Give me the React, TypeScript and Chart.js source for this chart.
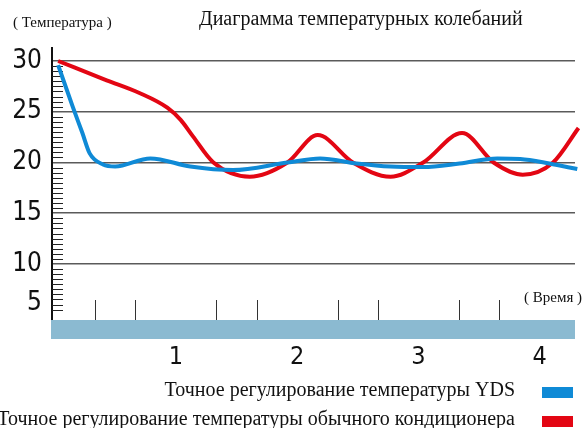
import React, { useEffect, useRef } from "react";
import { Chart, registerables } from "chart.js";

Chart.register(...registerables);

// ---- data ----
const chartTitle = "Диаграмма температурных колебаний";
const yAxisTitle = "( Температура )";
const xAxisTitle = "( Время )";
const seriesNames = [
  "Точное регулирование температуры YDS",
  "Точное регулирование температуры обычного кондиционера",
];
const yTickValues = [30, 25, 20, 15, 10];
const lowTickLabel = "5";
const lowTickValue = 6.15;
const timeLabels = [1, 2, 3, 4];
const minorTimeTicks = [1 / 3, 2 / 3, 4 / 3, 5 / 3, 7 / 3, 8 / 3, 10 / 3, 11 / 3];

const ydsTime = [0.03, 0.15, 0.23, 0.29, 0.4, 0.5, 0.79, 1.12, 1.47, 1.92, 2.19, 2.49, 2.77, 3.04, 3.34, 3.65, 3.84, 4.08, 4.31];
const ydsTemp = [29.6, 25.5, 22.9, 20.9, 19.8, 19.6, 20.4, 19.6, 19.25, 20.0, 20.4, 19.9, 19.6, 19.55, 19.9, 20.4, 20.35, 19.9, 19.35];

const acTime = [0.03, 0.43, 0.7, 0.93, 1.04, 1.14, 1.31, 1.61, 1.92, 2.17, 2.46, 2.77, 3.04, 3.36, 3.62, 3.86, 4.11, 4.32];
const acTemp = [30.0, 28.1, 26.85, 25.4, 24.2, 22.6, 20.0, 18.6, 20.0, 22.7, 20.0, 18.6, 20.0, 22.9, 20.0, 18.8, 20.0, 23.4];

// ---- styles ----
const BLUE = "#0f8ad6";
const RED = "#e30613";
const BAND = "#8bbad1";
const SERIF = "'Liberation Serif', 'DejaVu Serif', serif";
const NARROW = "'Liberation Sans Narrow', 'DejaVu Sans Condensed', sans-serif";

export default function App() {
  const ref = useRef<HTMLCanvasElement>(null);

  useEffect(() => {
    const canvas = ref.current;
    if (!canvas) return;

    const decor = {
      id: "decor",
      beforeDatasetsDraw(chart: any) {
        const { ctx, chartArea, scales } = chart;
        const xs = scales.x;
        const ys = scales.y;
        ctx.save();
        // band under the plot
        ctx.fillStyle = BAND;
        ctx.fillRect(chartArea.left - 1, chartArea.bottom, chartArea.right - chartArea.left + 1, 19);
        // minor y ticks
        ctx.strokeStyle = "#222";
        ctx.lineWidth = 1;
        for (let i = 11; i < 60; i++) {
          const v = i / 2;
          if (i % 10 === 0) continue;
          const py = Math.round(ys.getPixelForValue(v)) + 0.5;
          ctx.beginPath();
          ctx.moveTo(chartArea.left, py);
          ctx.lineTo(chartArea.left + 11, py);
          ctx.stroke();
        }
        // minor time ticks
        ctx.strokeStyle = "#333";
        for (const t of minorTimeTicks) {
          const px = Math.round(xs.getPixelForValue(t)) + 0.5;
          ctx.beginPath();
          ctx.moveTo(px, chartArea.bottom - 20);
          ctx.lineTo(px, chartArea.bottom);
          ctx.stroke();
        }
        ctx.restore();
      },
      afterDraw(chart: any) {
        const { ctx } = chart;
        ctx.save();
        ctx.fillStyle = "#111";
        ctx.textBaseline = "middle";
        ctx.textAlign = "left";
        ctx.font = `15px ${SERIF}`;
        ctx.fillText(yAxisTitle, 13, 23);
        ctx.fillText(xAxisTitle, 524, 298);
        ctx.font = `20px ${SERIF}`;
        ctx.fillText(chartTitle, 199, 20);
        // legend
        ctx.font = `20px ${SERIF}`;
        ctx.textAlign = "right";
        const ds = chart.data.datasets;
        const rows = [391, 420];
        ds.forEach((d: any, i: number) => {
          ctx.fillStyle = "#111";
          ctx.fillText(d.label, 515, rows[i]);
          ctx.fillStyle = d.borderColor;
          ctx.fillRect(542, rows[i] - 4, 31, 11);
        });
        ctx.restore();
      },
    };

    const chart = new Chart(canvas, {
      type: "line",
      data: {
        datasets: [
          {
            label: seriesNames[0],
            data: ydsTime.map((t, i) => ({ x: t, y: ydsTemp[i] })),
            borderColor: BLUE,
            backgroundColor: BLUE,
            borderWidth: 4,
            pointRadius: 0,
            cubicInterpolationMode: "monotone",
            clip: false as any,
          },
          {
            label: seriesNames[1],
            data: acTime.map((t, i) => ({ x: t, y: acTemp[i] })),
            borderColor: RED,
            backgroundColor: RED,
            borderWidth: 4,
            pointRadius: 0,
            cubicInterpolationMode: "monotone",
            clip: false as any,
          },
        ],
      },
      options: {
        animation: false,
        responsive: true,
        maintainAspectRatio: false,
        layout: { padding: { left: 0, top: 48, right: 12, bottom: 0 } },
        plugins: {
          legend: { display: false },
          tooltip: { enabled: false },
          title: { display: false },
        },
        scales: {
          x: {
            type: "linear",
            min: -0.0206,
            max: 4.291,
            afterFit: (s: any) => {
              s.height = 108;
            },
            afterBuildTicks: (s: any) => {
              s.ticks = timeLabels.map((v) => ({ value: v }));
            },
            grid: { display: false },
            border: { display: false },
            ticks: {
              padding: 14,
              color: "#111",
              font: { family: NARROW, size: 25 },
              callback: (v: any) => String(v),
            },
          },
          y: {
            type: "linear",
            min: 4.48,
            max: 31.28,
            afterFit: (s: any) => {
              s.width = 52;
            },
            afterBuildTicks: (s: any) => {
              s.ticks = [lowTickValue, ...yTickValues.slice().reverse()].map((v) => ({ value: v }));
            },
            grid: {
              drawTicks: false,
              color: (c: any) => (c.tick && c.tick.value < 9 ? "rgba(0,0,0,0)" : "#5a5a5a"),
              lineWidth: 1.5,
            },
            border: { display: true, color: "#111", width: 2 },
            ticks: {
              padding: 10,
              color: "#111",
              font: { family: NARROW, size: 26 },
              callback: (v: any) => (v < 9 ? lowTickLabel : String(v)),
            },
          },
        },
      },
      plugins: [decor],
    });

    return () => chart.destroy();
  }, []);

  return (
    <div style={{ position: "fixed", left: 0, top: 0, width: 587, height: 428, background: "#fff" }}>
      <canvas ref={ref} />
    </div>
  );
}
